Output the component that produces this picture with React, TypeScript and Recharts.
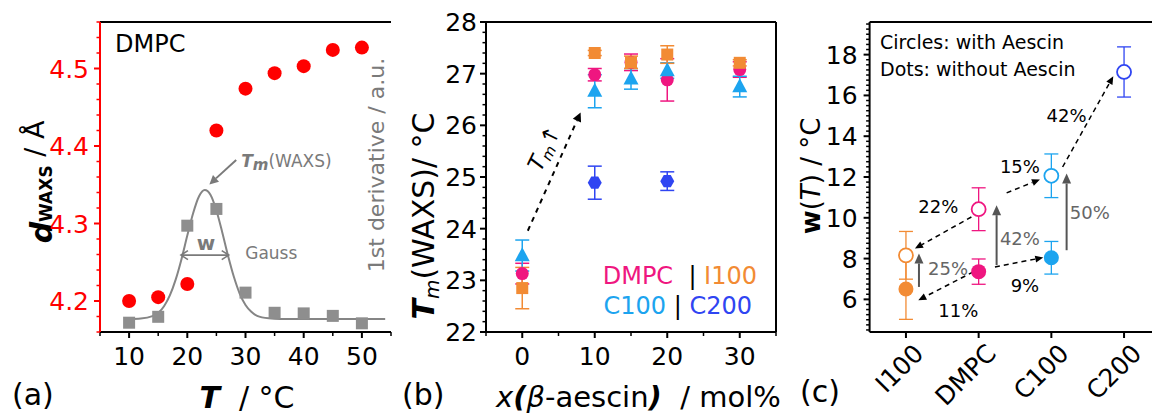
import React from "react";
import {
  ComposedChart,
  Scatter,
  Line,
  XAxis,
  YAxis,
  ErrorBar,
  ReferenceLine,
  ReferenceDot,
} from "recharts";

const FONT = "'DejaVu Sans', 'Liberation Sans', sans-serif";

// ---------- (a) DMPC: WAXS d-spacing + 1st derivative vs T ----------
const tempA = [10, 15, 20, 25, 30, 35, 40, 45, 50];
const dWaxs = [4.2, 4.205, 4.222, 4.42, 4.474, 4.494, 4.503, 4.524, 4.527];
const dDeriv = [3.0, 4.9, 34.3, 39.7, 12.7, 6.2, 6.0, 5.2, 2.8];
// Gauss fit (a.u.)
const gaussT = [10, 12, 14, 16, 17, 18, 19, 20, 21, 22, 23, 24, 25, 26, 27, 28, 29, 30, 31, 32, 34, 36, 54];
const gaussFit = [4.2, 4.35, 5.1, 8.3, 11.8, 16.9, 23.5, 31.1, 38.3, 43.7, 45.8, 44.2, 39.2, 32.2, 24.6, 17.8, 12.4, 8.7, 6.5, 5.2, 4.4, 4.2, 4.2];

// ---------- (b) Tm(WAXS) vs x(beta-aescin) ----------
const xAescin = [0, 10, 15, 20, 30];
const tmDMPC = [23.13, 26.98, 27.22, 26.88, 27.08];
const errDMPC = [0.2, 0.12, 0.16, 0.41, 0.15];
const tmI100 = [22.85, 27.4, 27.22, 27.37, 27.21];
const errI100 = [0.4, 0.05, 0.12, 0.17, 0.06];
const tmC100 = [23.48, 26.66, 26.9, 27.06, 26.75];
const errC100 = [0.3, 0.32, 0.2, 0.15, 0.2];
const xC200 = [10, 20];
const tmC200 = [24.89, 24.92];
const errC200 = [0.32, 0.18];

// ---------- (c) transition width w(T) ----------
const samples = ["I100", "DMPC", "C100", "C200"];
const wWith = [8.16, 10.42, 12.06, 17.15];
const errWith = [1.17, 1.05, 1.07, 1.23];
const wWithout = [6.51, 7.36, 8.04, null];
const errWithout = [1.49, 0.62, 0.8, null];

// annotations of (c), in data coordinates
const dashedArrowsC = [
  { from: [0.9, 10.04], to: [0.124, 8.49], text: "22%", at: [0.445, 10.53] },
  { from: [0.926, 7.35], to: [0.17, 5.96], text: "11%", at: [0.72, 5.47] },
  { from: [1.224, 7.59], to: [1.889, 8.05], text: "9%", at: [1.637, 6.7] },
  { from: [1.385, 11.22], to: [1.843, 11.88], text: "15%", at: [1.568, 12.49] },
  { from: [2.155, 12.49], to: [2.852, 16.94], text: "42%", at: [2.21, 15.03] },
];
const solidArrowsC = [
  { x: 0.179, from: 6.61, to: 8.25, text: "25%", at: [0.58, 7.51] },
  { x: 1.247, from: 7.68, to: 10.62, text: "42%", at: [1.568, 8.98] },
  { x: 2.21, from: 8.41, to: 12.17, text: "50%", at: [2.53, 10.24] },
];

const RED = "#ff0000";
const GRAY = "#8a8a8a";
const TGRAY = "#7a7a7a";
const PINK = "#ef1680";
const ORANGE = "#f28b34";
const LBLUE = "#1ca4ef";
const BLUE = "#2f45f2";
const sampleColors = [ORANGE, PINK, LBLUE, BLUE];

const ticksAx = [5, 10, 15, 20, 25, 30, 35, 40, 45, 50, 55];
const ticksAy = Array.from({ length: 21 }, (_, i) => +(4.16 + i * 0.02).toFixed(2));
const ticksBx = [-5, 0, 5, 10, 15, 20, 25, 30, 35];
const ticksBy = Array.from({ length: 31 }, (_, i) => +(22 + i * 0.2).toFixed(1));
const ticksCy = Array.from({ length: 61 }, (_, i) => 4.5 + i * 0.25);

const near = (v: number, step: number) => Math.abs(v / step - Math.round(v / step)) < 1e-6;

// ---- ticks ----
const leftTick = (isMajor: (v: number) => boolean, fmt: (v: number) => string, gap: number, color = "#000") =>
  (p: any) => {
    const v = p.payload.value;
    const major = isMajor(v);
    return (
      <g>
        <line x1={p.x - (major ? 6 : 3.5)} x2={p.x} y1={p.y} y2={p.y} stroke={color} strokeWidth={major ? 2 : 1.5} />
        {major && (
          <text x={p.x - gap} y={p.y} dy="0.36em" textAnchor="end" fill={color} fontSize={25} fontFamily={FONT}>
            {fmt(v)}
          </text>
        )}
      </g>
    );
  };

const bottomTick = (isMajor: (v: number) => boolean) => (p: any) => {
  const v = p.payload.value;
  const major = isMajor(v);
  return (
    <g>
      <line x1={p.x} x2={p.x} y1={p.y} y2={p.y + (major ? 6 : 4)} stroke="#000" strokeWidth={major ? 2 : 1.5} />
      {major && (
        <text x={p.x} y={p.y + 33} textAnchor="middle" fill="#000" fontSize={25} fontFamily={FONT}>
          {v}
        </text>
      )}
    </g>
  );
};

const catTick = (p: any) => {
  const px = p.x + 19;
  const py = p.y + 23;
  return (
    <g>
      <line x1={p.x} x2={p.x} y1={p.y} y2={p.y + 6} stroke="#000" strokeWidth={2} />
      <text x={px} y={py} transform={`rotate(-45, ${px}, ${py})`} textAnchor="end" fontSize={25} fontFamily={FONT} fill="#000">
        {samples[p.payload.value]}
      </text>
    </g>
  );
};

// ---- marker shapes ----
const dotShape = (r: number, fill: string, stroke = "none", sw = 0) => (p: any) =>
  p.cx == null ? <g /> : <circle cx={p.cx} cy={p.cy} r={r} fill={fill} stroke={stroke} strokeWidth={sw} />;
const squareShape = (s: number, fill: string) => (p: any) =>
  p.cx == null ? <g /> : <rect x={p.cx - s / 2} y={p.cy - s / 2} width={s} height={s} fill={fill} />;
const triShape = (w: number, h: number, fill: string) => (p: any) =>
  p.cx == null ? (
    <g />
  ) : (
    <polygon points={`${p.cx},${p.cy - h * 0.6} ${p.cx + w / 2},${p.cy + h * 0.4} ${p.cx - w / 2},${p.cy + h * 0.4}`} fill={fill} />
  );
const hexShape = (r: number, fill: string) => (p: any) => {
  if (p.cx == null) return <g />;
  const pts = [0, 60, 120, 180, 240, 300]
    .map((a) => `${p.cx + r * Math.cos((a * Math.PI) / 180)},${p.cy + r * Math.sin((a * Math.PI) / 180)}`)
    .join(" ");
  return <polygon points={pts} fill={fill} />;
};

// ---- arrows / labels ----
const head = (x1: number, y1: number, x2: number, y2: number, len: number, half: number) => {
  const a = Math.atan2(y2 - y1, x2 - x1);
  const bx = x2 - len * Math.cos(a);
  const by = y2 - len * Math.sin(a);
  const nx = -Math.sin(a) * half;
  const ny = Math.cos(a) * half;
  return { bx, by, pts: `${x2},${y2} ${bx + nx},${by + ny} ${bx - nx},${by - ny}` };
};

const arrowShape = (color: string, w: number, len: number, half: number, dash?: string) => (p: any) => {
  const h = head(p.x1, p.y1, p.x2, p.y2, len, half);
  return (
    <g>
      <line x1={p.x1} y1={p.y1} x2={h.bx} y2={h.by} stroke={color} strokeWidth={w} strokeDasharray={dash} />
      <polygon points={h.pts} fill={color} />
    </g>
  );
};

const doubleArrowShape = (color: string) => (p: any) => {
  const a = head(p.x1, p.y1, p.x2, p.y2, 7, 4.5);
  const b = head(p.x2, p.y2, p.x1, p.y1, 7, 4.5);
  const [a1, a2, a3] = a.pts.split(" ");
  const [b1, b2, b3] = b.pts.split(" ");
  return (
    <g fill="none" stroke={color} strokeWidth={1.6}>
      <line x1={p.x1} y1={p.y1} x2={p.x2} y2={p.y2} />
      <polyline points={`${a2} ${a1} ${a3}`} />
      <polyline points={`${b2} ${b1} ${b3}`} />
    </g>
  );
};

const textShape = (content: React.ReactNode, opts: any = {}) => (p: any) => (
  <text
    x={p.cx}
    y={p.cy}
    fontFamily={FONT}
    fontSize={opts.size ?? 18}
    fill={opts.fill ?? "#000"}
    textAnchor={opts.anchor ?? "middle"}
    dy={opts.dy ?? "0.36em"}
    transform={opts.rotate ? `rotate(${opts.rotate}, ${p.cx}, ${p.cy})` : undefined}
  >
    {content}
  </text>
);

// ---- static texts (axis titles, panel letters, notes) ----
const PanelATexts = () => (
  <g fontFamily={FONT} fill="#000">
    <text x={12} y={405} fontSize={30}>(a)</text>
    <text x={247} y={408} fontSize={30} textAnchor="middle">
      <tspan fontWeight="bold" fontStyle="italic">T</tspan>
      {"\u00a0\u00a0/ °C"}
    </text>
    <text transform="rotate(-90, 52, 182)" x={52} y={182} textAnchor="middle" fontSize={27}>
      <tspan fontWeight="bold" fontStyle="italic" fontSize={30}>d</tspan>
      <tspan fontWeight="bold" fontSize={17}>WAXS</tspan>
      <tspan dy={-8}>{" / Å"}</tspan>
    </text>
    <text transform="rotate(-90, 384, 165)" x={384} y={165} textAnchor="middle" fontSize={22} fill={TGRAY}>
      1st derivative / a.u.
    </text>
    <text x={115} y={52} fontSize={24}>DMPC</text>
  </g>
);

const PanelBTexts = () => (
  <g fontFamily={FONT} fill="#000">
    <text x={2} y={405} fontSize={30}>(b)</text>
    <text x={96} y={407} fontSize={29}>
      <tspan fontStyle="italic">x</tspan>
      <tspan fontStyle="italic" fontWeight="bold">(</tspan>
      <tspan fontStyle="italic">β</tspan>
      <tspan>-aescin</tspan>
      <tspan fontStyle="italic" fontWeight="bold">)</tspan>
      <tspan>{"\u00a0\u00a0/ mol%"}</tspan>
    </text>
    <text transform="rotate(-90, 34, 216)" x={34} y={216} textAnchor="middle" fontSize={30}>
      <tspan fontWeight="bold" fontStyle="italic">T</tspan>
      <tspan fontStyle="italic" fontSize={20} dy={5}>m</tspan>
      <tspan dy={-5}>(WAXS)/ °C</tspan>
    </text>
    <text x={357} y={284} textAnchor="end" fontSize={24}>
      <tspan fill={PINK}>DMPC</tspan>
      <tspan fill="#000">{"\u00a0\u00a0|\u00a0"}</tspan>
      <tspan fill={ORANGE}>I100</tspan>
    </text>
    <text x={352} y={314} textAnchor="end" fontSize={24}>
      <tspan fill={LBLUE}>C100</tspan>
      <tspan fill="#000">{"\u00a0|\u00a0"}</tspan>
      <tspan fill={BLUE}>C200</tspan>
    </text>
  </g>
);

const PanelCTexts = () => (
  <g fontFamily={FONT} fill="#000">
    <text x={20} y={402} fontSize={30}>(c)</text>
    <text transform="rotate(-90, 40, 176)" x={40} y={176} textAnchor="middle" fontSize={26}>
      <tspan fontWeight="bold">w</tspan>
      <tspan>(</tspan>
      <tspan fontStyle="italic">T</tspan>
      <tspan>{") / °C"}</tspan>
    </text>
    <text x={100} y={49} fontSize={19}>Circles: with Aescin</text>
    <text x={100} y={76} fontSize={19}>Dots: without Aescin</text>
  </g>
);

const axisBlack = { stroke: "#000", strokeWidth: 2 };

function PanelA() {
  const dots = tempA.map((t, i) => ({ x: t, y: dWaxs[i] }));
  const squares = tempA.map((t, i) => ({ x: t, y: dDeriv[i] }));
  const gauss = gaussT.map((t, i) => ({ x: t, g: gaussFit[i] }));
  return (
    <ComposedChart width={400} height={416} margin={{ top: 22, right: 9, bottom: 44, left: 40 }}>
      <XAxis
        type="number"
        dataKey="x"
        domain={[5, 55]}
        ticks={ticksAx}
        interval={0}
        allowDataOverflow
        tickSize={0}
        tickMargin={0}
        tickLine={false}
        axisLine={axisBlack}
        tick={bottomTick((v) => v % 10 === 0)}
        height={40}
        label={<PanelATexts />}
      />
      <YAxis
        yAxisId="d"
        type="number"
        domain={[4.16, 4.56]}
        ticks={ticksAy}
        interval={0}
        allowDataOverflow
        tickSize={0}
        tickMargin={0}
        tickLine={false}
        axisLine={{ stroke: RED, strokeWidth: 2 }}
        tick={leftTick((v) => near(v, 0.1), (v) => v.toFixed(1), 11, RED)}
        width={60}
      />
      <YAxis
        yAxisId="der"
        orientation="right"
        type="number"
        domain={[0, 100]}
        allowDataOverflow
        tick={false}
        tickLine={false}
        axisLine={{ stroke: GRAY, strokeWidth: 2 }}
        width={0}
      />
      <ReferenceLine yAxisId="d" y={4.56} stroke="#000" strokeWidth={2} ifOverflow="visible" />
      <Line
        yAxisId="der"
        data={gauss}
        dataKey="g"
        type="monotone"
        dot={false}
        stroke="#858585"
        strokeWidth={2}
        isAnimationActive={false}
      />
      <Scatter yAxisId="der" data={squares} dataKey="y" shape={squareShape(12, "#8e8e8e")} isAnimationActive={false} />
      <Scatter yAxisId="d" data={dots} dataKey="y" shape={dotShape(7, RED)} isAnimationActive={false} />
      <ReferenceLine
        yAxisId="der"
        segment={[{ x: 28.4, y: 55.5 }, { x: 23.79, y: 47.6 }]}
        shape={arrowShape(TGRAY, 2, 9, 4.5)}
        ifOverflow="visible"
      />
      <ReferenceDot
        yAxisId="der"
        x={29.26}
        y={53.3}
        r={0}
        ifOverflow="visible"
        shape={textShape(
          <>
            <tspan fontWeight="bold" fontStyle="italic">T</tspan>
            <tspan fontWeight="bold" fontStyle="italic" fontSize={15} dy={3}>m</tspan>
            <tspan dy={-3}>(WAXS)</tspan>
          </>,
          { size: 17, fill: TGRAY, anchor: "start", dy: 0 }
        )}
      />
      <ReferenceLine
        yAxisId="der"
        segment={[{ x: 18.91, y: 24.8 }, { x: 27.12, y: 24.8 }]}
        shape={doubleArrowShape(TGRAY)}
        ifOverflow="visible"
      />
      <ReferenceDot
        yAxisId="der"
        x={23.22}
        y={26.45}
        r={0}
        ifOverflow="visible"
        shape={textShape(<tspan fontWeight="bold">w</tspan>, { size: 20, fill: TGRAY, dy: 0 })}
      />
      <ReferenceDot
        yAxisId="der"
        x={29.95}
        y={23.5}
        r={0}
        ifOverflow="visible"
        shape={textShape("Gauss", { size: 17, fill: TGRAY, anchor: "start", dy: 0 })}
      />
    </ComposedChart>
  );
}

function PanelB() {
  const mk = (xs: number[], ys: number[], es: number[]) => xs.map((x, i) => ({ x, y: ys[i], e: es[i] }));
  const series = [
    { key: "DMPC", data: mk(xAescin, tmDMPC, errDMPC), color: PINK, shape: dotShape(6.5, PINK) },
    { key: "C100", data: mk(xAescin, tmC100, errC100), color: LBLUE, shape: triShape(15, 14, LBLUE) },
    { key: "C200", data: mk(xC200, tmC200, errC200), color: BLUE, shape: hexShape(7, BLUE) },
    { key: "I100", data: mk(xAescin, tmI100, errI100), color: ORANGE, shape: squareShape(12, ORANGE) },
  ];
  return (
    <ComposedChart width={380} height={416} margin={{ top: 22, right: 4, bottom: 44, left: 26 }}>
      <XAxis
        type="number"
        dataKey="x"
        domain={[-5, 35]}
        ticks={ticksBx}
        interval={0}
        allowDataOverflow
        tickSize={0}
        tickMargin={0}
        tickLine={false}
        axisLine={axisBlack}
        tick={bottomTick((v) => v % 10 === 0)}
        height={40}
        label={<PanelBTexts />}
      />
      <YAxis
        type="number"
        domain={[22, 28]}
        ticks={ticksBy}
        interval={0}
        allowDataOverflow
        tickSize={0}
        tickMargin={0}
        tickLine={false}
        axisLine={axisBlack}
        tick={leftTick((v) => Number.isInteger(v), (v) => String(v), 9)}
        width={60}
      />
      <ReferenceLine y={28} stroke="#000" strokeWidth={2} ifOverflow="visible" />
      <ReferenceLine x={35} stroke="#000" strokeWidth={2} ifOverflow="visible" />
      {series.map((s) => (
        <Scatter key={s.key} data={s.data} dataKey="y" shape={s.shape} isAnimationActive={false}>
          <ErrorBar dataKey="e" direction="y" width={7} stroke={s.color} strokeWidth={1.5} isAnimationActive={false} />
        </Scatter>
      ))}
      <ReferenceLine
        segment={[{ x: 0.77, y: 23.96 }, { x: 8.05, y: 26.25 }]}
        shape={arrowShape("#000", 2, 9, 4.5, "5 5")}
        ifOverflow="visible"
      />
      <ReferenceDot
        x={2.98}
        y={25.56}
        r={0}
        ifOverflow="visible"
        shape={textShape(
          <>
            <tspan fontStyle="italic">T</tspan>
            <tspan fontStyle="italic" fontSize={15} dy={4}>m</tspan>
            <tspan dy={-4}>↑</tspan>
          </>,
          { size: 22, rotate: -64 }
        )}
      />
    </ComposedChart>
  );
}

function PanelC() {
  return (
    <ComposedChart width={400} height={416} margin={{ top: 22, right: 19.6, bottom: 44, left: 29.6 }}>
      <XAxis
        type="number"
        dataKey="x"
        domain={[-0.5, 3.5]}
        ticks={[0, 1, 2, 3]}
        interval={0}
        allowDataOverflow
        tickSize={0}
        tickMargin={0}
        tickLine={false}
        axisLine={axisBlack}
        tick={catTick}
        height={40}
        label={<PanelCTexts />}
      />
      <YAxis
        type="number"
        domain={[4.4, 19.6]}
        ticks={ticksCy}
        interval={0}
        allowDataOverflow
        tickSize={0}
        tickMargin={0}
        tickLine={false}
        axisLine={axisBlack}
        tick={leftTick((v) => near(v, 2) && v >= 6, (v) => String(v), 12)}
        width={60}
      />
      <ReferenceLine y={19.6} stroke="#000" strokeWidth={2} ifOverflow="visible" />
      {samples.map((name, i) =>
        wWithout[i] == null ? null : (
          <Scatter
            key={`without-${name}`}
            data={[{ x: i, y: wWithout[i], e: errWithout[i] }]}
            dataKey="y"
            shape={dotShape(7.5, sampleColors[i])}
            isAnimationActive={false}
          >
            <ErrorBar dataKey="e" direction="y" width={7} stroke={sampleColors[i]} strokeWidth={1.3} isAnimationActive={false} />
          </Scatter>
        )
      )}
      {samples.map((name, i) => (
        <Scatter
          key={`with-${name}`}
          data={[{ x: i, y: wWith[i], e: errWith[i] }]}
          dataKey="y"
          shape={dotShape(7, "#fff", sampleColors[i], 1.8)}
          isAnimationActive={false}
        >
          <ErrorBar dataKey="e" direction="y" width={7} stroke={sampleColors[i]} strokeWidth={1.3} isAnimationActive={false} />
        </Scatter>
      ))}
      {dashedArrowsC.map((a, i) => (
        <ReferenceLine
          key={`da-${i}`}
          segment={[{ x: a.from[0], y: a.from[1] }, { x: a.to[0], y: a.to[1] }]}
          shape={arrowShape("#000", 1.5, 8, 3.5, "5 4")}
          ifOverflow="visible"
        />
      ))}
      {dashedArrowsC.map((a, i) => (
        <ReferenceDot key={`dl-${i}`} x={a.at[0]} y={a.at[1]} r={0} ifOverflow="visible" shape={textShape(a.text, { size: 18 })} />
      ))}
      {solidArrowsC.map((a, i) => (
        <ReferenceLine
          key={`sa-${i}`}
          segment={[{ x: a.x, y: a.from }, { x: a.x, y: a.to }]}
          shape={arrowShape("#555", 2, 10, 4.5)}
          ifOverflow="visible"
        />
      ))}
      {solidArrowsC.map((a, i) => (
        <ReferenceDot
          key={`sl-${i}`}
          x={a.at[0]}
          y={a.at[1]}
          r={0}
          ifOverflow="visible"
          shape={textShape(a.text, { size: 18, fill: "#666" })}
        />
      ))}
    </ComposedChart>
  );
}

export default function App() {
  return (
    <div
      style={{
        position: "fixed",
        left: 0,
        top: 0,
        width: 1152,
        height: 416,
        overflow: "hidden",
        background: "#fff",
        fontFamily: FONT,
      }}
    >
      <div style={{ position: "absolute", left: 0, top: 0 }}>
        <PanelA />
      </div>
      <div style={{ position: "absolute", left: 400, top: 0 }}>
        <PanelB />
      </div>
      <div style={{ position: "absolute", left: 780, top: 0 }}>
        <PanelC />
      </div>
    </div>
  );
}
